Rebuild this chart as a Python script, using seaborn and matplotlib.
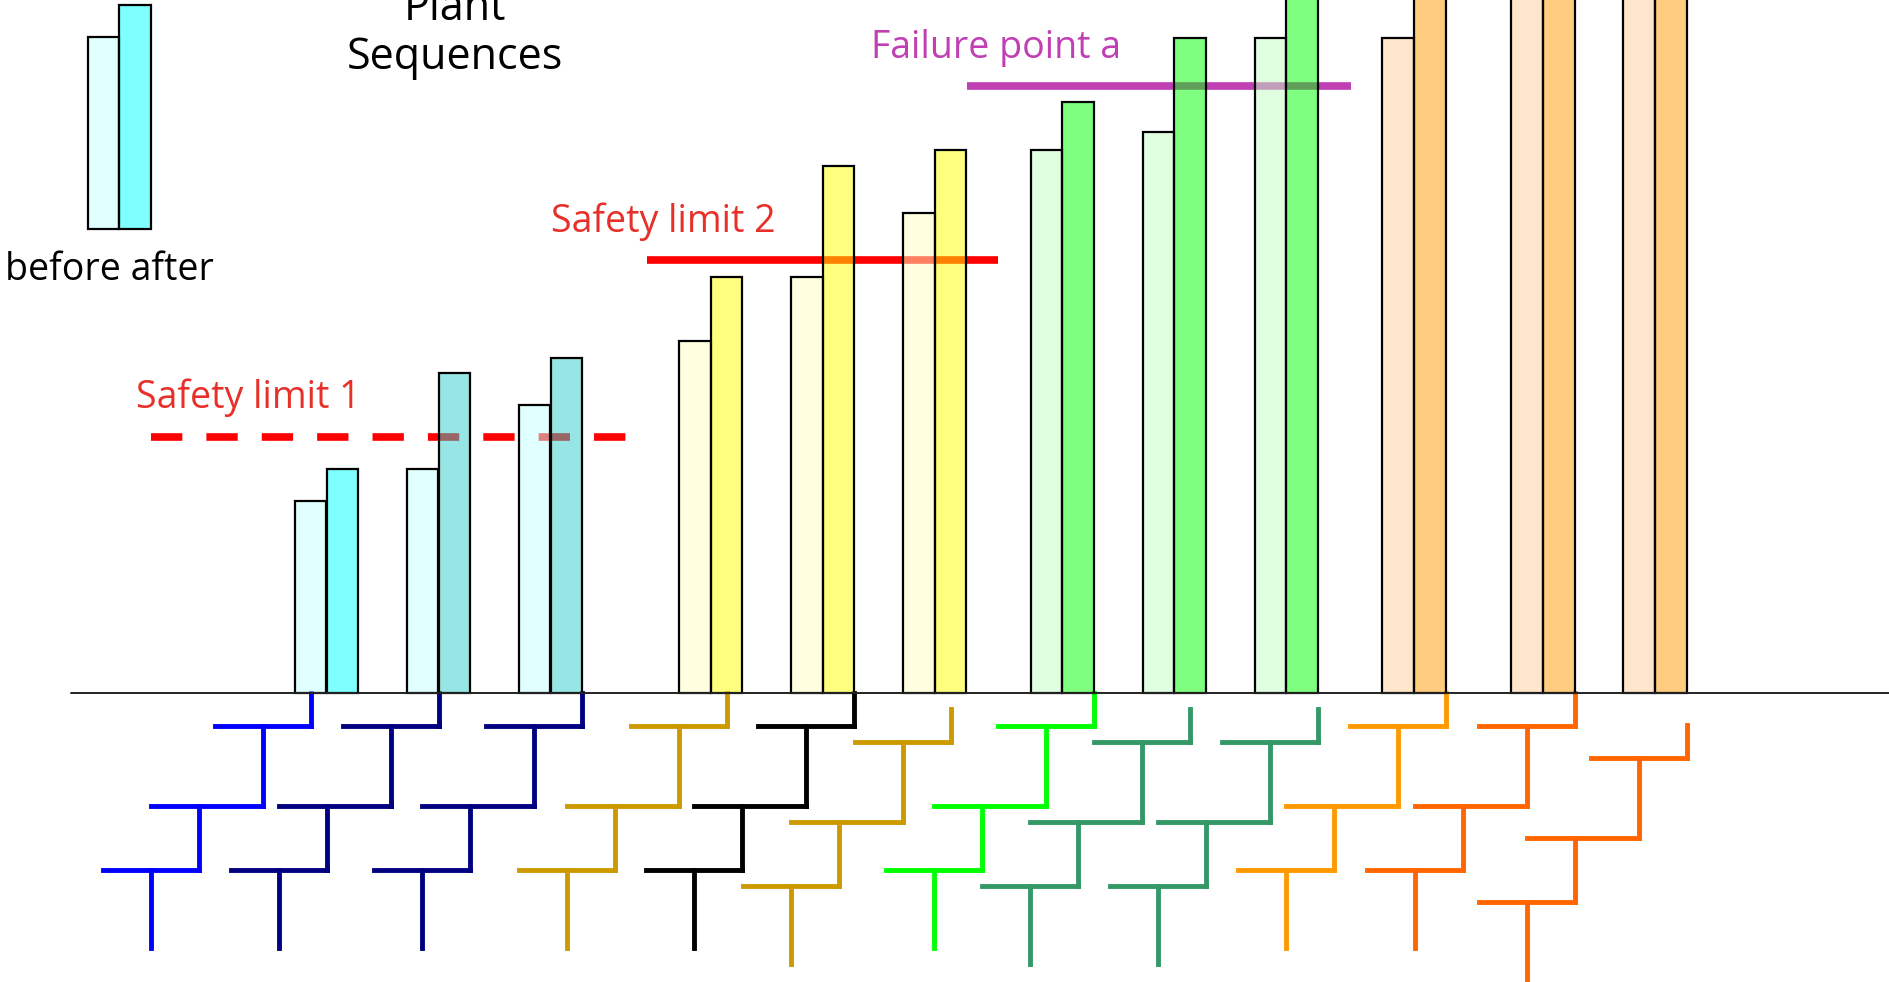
import numpy as np
import pandas as pd
import matplotlib
matplotlib.use("Agg")
import matplotlib.pyplot as plt
from matplotlib.collections import LineCollection
import seaborn as sns

# ---------------- data ----------------
groups = ["S1", "S2", "S3", "S4", "S5", "S6", "S7", "S8", "S9", "S10", "S11", "S12"]
before = [7.5, 8.75, 11.25, 13.75, 16.25, 18.75, 21.2, 21.9, 25.6, 25.6, 28.0, 28.5]
after = [8.75, 12.5, 13.1, 16.25, 20.6, 21.2, 23.1, 25.6, 29.0, 29.5, 30.0, 31.0]
family = ["cyan", "cyan", "cyan", "yellow", "yellow", "yellow",
          "green", "green", "green", "orange", "orange", "orange"]
limit_labels = ["Safety limit 1", "Safety limit 2", "Failure point a"]
limit_values = [10.0, 16.9, 23.7]
title_lines = ["Plant", "Sequences"]
legend_text = "before after"

# ---------------- layout / style ----------------
FIG_W, FIG_H = 1889, 982
PX_PER_GROUP = 112.0          # horizontal px per group step
X0_PX = 326.5                 # px of the first group centre
BASE_PX = 693.0               # px of the baseline
PX_PER_UNIT = 25.6            # vertical px per value unit
BW = 0.283                    # bar width (group units)
FONT = ["Open Sans", "DejaVu Sans"]
FW = "medium"
FS = 27
FS_TITLE = 31

group_gap = [1.0, 1.0, 1.43, 1.0, 1.0, 1.14, 1.0, 1.0, 1.14, 1.15, 1.0]
gx = np.concatenate([[0.0], np.cumsum(group_gap)])

before_color = {"cyan": "#c2ffff", "yellow": "#ffffc2", "green": "#c2ffc2", "orange": "#ffcc99"}
after_color = ["#00ffff", "#33cccc", "#33cccc", "#ffff00", "#ffff00", "#ffff00",
               "#00ff00", "#00ff00", "#00ff00", "#ff9900", "#ff9900", "#ff9900"]
FILL_ALPHA = 0.5

tree_color = ["#0000ff", "#000080", "#000080", "#cc9900", "#000000", "#cc9900",
              "#00ff00", "#339966", "#339966", "#ff9900", "#ff6600", "#ff6600"]
tree_attach = [-0.5, 0, 1, 0.5, 1, 0.5, 1, 0.5, 1, 1, 1, 1]   # in bar widths
tree_drop = [0, 0, 0, 0, 0, 1, 0, 1, 1, 0, 0, 2]               # in drop steps
DROP_STEP = 16 / PX_PER_UNIT
T_HALF = 48 / PX_PER_GROUP
T_CENTERS = [-48 / PX_PER_GROUP, -112 / PX_PER_GROUP, -160 / PX_PER_GROUP]
T_LEVELS = [0, 33 / PX_PER_UNIT, 113 / PX_PER_UNIT, 177 / PX_PER_UNIT, 255 / PX_PER_UNIT]
TREE_LW = 3.5

limit_spans = [(-1.564, 2.72), (2.864, 6.0), (5.72, 9.15)]
limit_line_color = ["#ff0000", "#ff0000", "#c040b4"]
limit_text_color = ["#e8302a", "#e8302a", "#c040b4"]
limit_dashed = [True, False, False]
LIMIT_LW = 5.5


def X(px):
    return (px - X0_PX) / PX_PER_GROUP


def Y(px):
    return (BASE_PX - px) / PX_PER_UNIT


sns.set_theme(style="white")
plt.rcParams["font.family"] = FONT

fig = plt.figure(figsize=(FIG_W / 100, FIG_H / 100), dpi=100)
ax = fig.add_axes([0, 0, 1, 1])

# ---------------- bars ----------------
rows = []
palette = {}
for i, g in enumerate(groups):
    rows.append(dict(pos=gx[i] - BW / 2, value=before[i], bar=f"{g} before"))
    rows.append(dict(pos=gx[i] + BW / 2, value=after[i], bar=f"{g} after"))
    palette[f"{g} before"] = before_color[family[i]]
    palette[f"{g} after"] = after_color[i]
df = pd.DataFrame(rows)

sns.barplot(data=df, x="pos", y="value", hue="bar", palette=palette,
            native_scale=True, width=1.0, dodge=False, errorbar=None,
            legend=False, saturation=1, edgecolor="black", linewidth=1.6,
            zorder=3, ax=ax)
for p in ax.patches:
    r, g_, b, _ = p.get_facecolor()
    p.set_facecolor((r, g_, b, FILL_ALPHA))

# ---------------- legend sample (uses first group's values) ----------------
leg_bottom = Y(229.3)
leg_mid = X(119.3)
ax.bar([leg_mid - BW / 2, leg_mid + BW / 2], [before[0], after[0]],
       width=BW, bottom=leg_bottom,
       color=[matplotlib.colors.to_rgba(before_color["cyan"], FILL_ALPHA),
              matplotlib.colors.to_rgba(after_color[0], FILL_ALPHA)],
       edgecolor="black", linewidth=1.6, zorder=3)
ax.text(X(5), Y(280), legend_text, fontsize=FS, fontweight=FW,
        ha="left", va="baseline", color="black")

# ---------------- limit lines ----------------
for lab, val, (x1, x2), lc, tc, dashed in zip(limit_labels, limit_values, limit_spans,
                                              limit_line_color, limit_text_color, limit_dashed):
    if dashed:
        ax.plot([x1, x2], [val, val], color=lc, lw=LIMIT_LW, dashes=(4.1, 3.15),
                dash_capstyle="butt", zorder=2)
    else:
        ax.plot([x1, x2], [val, val], color=lc, lw=LIMIT_LW, solid_capstyle="butt", zorder=2)
    offs = -0.14 if dashed else -0.86
    ax.text(x1 + offs, val + 1.12, lab, color=tc, fontsize=FS, fontweight=FW,
            ha="left", va="baseline")

# ---------------- baseline ----------------
ax.axhline(0, xmin=70.5 / FIG_W, xmax=1.0, color="#222222", lw=1.4, zorder=4)

# ---------------- sequence trees ----------------
for i in range(len(groups)):
    x0 = gx[i] + tree_attach[i] * BW
    y0 = -tree_drop[i] * DROP_STEP
    segs = [[(x0, y0 - T_LEVELS[0]), (x0, y0 - T_LEVELS[1])]]
    prev = x0
    for k, c in enumerate(T_CENTERS):
        cx = x0 + c
        yk = y0 - T_LEVELS[k + 1]
        segs.append([(cx - T_HALF, yk), (max(cx + T_HALF, prev), yk)])
        segs.append([(cx, yk), (cx, y0 - T_LEVELS[k + 2])])
        prev = cx
    lc_ = LineCollection(segs, colors=tree_color[i], linewidths=TREE_LW,
                         capstyle="projecting", zorder=2)
    ax.add_collection(lc_)

# ---------------- title ----------------
ax.text(X(455), Y(20), title_lines[0], fontsize=FS_TITLE, fontweight=FW,
        ha="center", va="baseline", color="black")
ax.text(X(455), Y(69), title_lines[1], fontsize=FS_TITLE, fontweight=FW,
        ha="center", va="baseline", color="black")

ax.set_xlim(X(0), X(FIG_W))
ax.set_ylim(Y(FIG_H), Y(0))
ax.axis("off")

fig.savefig("out.png", dpi=100)
